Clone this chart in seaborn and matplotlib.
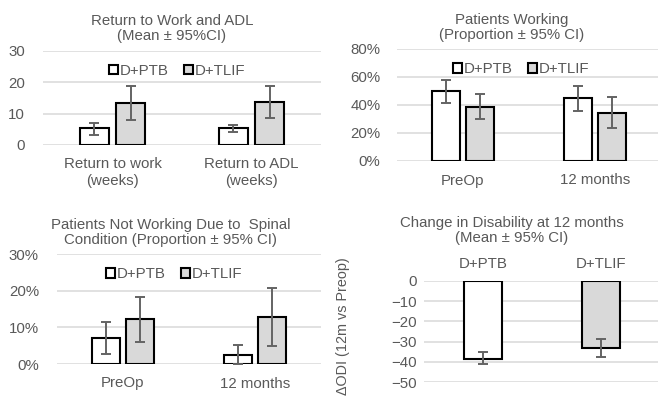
import numpy as np
import pandas as pd
import matplotlib
matplotlib.use("Agg")
import matplotlib.pyplot as plt
from matplotlib.patches import Patch
from matplotlib.ticker import FuncFormatter
import seaborn as sns

# ---- data -------------------------------------------------------------
groups = ["D+PTB", "D+TLIF"]

rtw_cats = ["Return to work\n(weeks)", "Return to ADL\n(weeks)"]
rtw_ptb = [5.3, 5.3]
rtw_ptb_lo = [3.2, 4.2]
rtw_ptb_hi = [7.1, 6.4]
rtw_tlif = [13.5, 13.6]
rtw_tlif_lo = [8.0, 8.5]
rtw_tlif_hi = [18.9, 18.9]

time_cats = ["PreOp", "12 months"]
work_ptb = [50.2, 44.8]
work_ptb_lo = [41.2, 35.9]
work_ptb_hi = [57.9, 53.4]
work_tlif = [38.8, 34.5]
work_tlif_lo = [29.7, 23.5]
work_tlif_hi = [47.7, 45.5]

notwork_ptb = [7.1, 2.4]
notwork_ptb_lo = [2.7, 0.0]
notwork_ptb_hi = [11.4, 5.1]
notwork_tlif = [12.3, 12.8]
notwork_tlif_lo = [5.9, 5.0]
notwork_tlif_hi = [18.3, 20.7]

odi_change = [-38.4, -33.1]
odi_lo = [-41.3, -37.4]
odi_hi = [-35.2, -28.7]

# ---- style ------------------------------------------------------------
sns.set_theme(style="white")
plt.rcParams["font.family"] = ["Liberation Sans", "DejaVu Sans"]
TEXT = "#595959"
GRID = "#D9D9D9"
FILLS = ["white", "#D9D9D9"]
ERR = "#636363"
FS = 10.8

W, H = 658, 398
fig = plt.figure(figsize=(W / 100, H / 100), dpi=100)


def px_axes(x0, x1, ytop, ybot):
    return fig.add_axes([x0 / W, (H - ybot) / H, (x1 - x0) / W, (ybot - ytop) / H])


def frac_x(ax, px):
    """Horizontal pixel position expressed in the axes' own coordinates."""
    b = ax.get_position()
    return (px / W - b.x0) / b.width


def style_axes(ax, ylim, ticks, ncat, pct=False, pad=9):
    ax.set_xlim(-0.5, ncat - 0.5)
    ax.set_ylim(*ylim)
    ax.set_yticks(ticks)
    if pct:
        ax.yaxis.set_major_formatter(FuncFormatter(lambda v, p: f"{v:.0f}%"))
    for s in ax.spines.values():
        s.set_visible(False)
    ax.grid(axis="y", color=GRID, linewidth=1.1)
    ax.set_axisbelow(True)
    ax.tick_params(axis="y", length=0, pad=pad, labelsize=FS, labelcolor=TEXT)
    ax.tick_params(axis="x", length=0, pad=9, labelsize=FS, labelcolor=TEXT)
    ax.set_xlabel("")
    ax.set_ylabel("")


def grouped(ax, cats, ptb, tlif, lo, hi, legend_px):
    df = pd.DataFrame({
        "cat": cats + cats,
        "grp": [groups[0]] * len(cats) + [groups[1]] * len(cats),
        "val": list(ptb) + list(tlif),
    })
    sns.barplot(data=df, x="cat", y="val", hue="grp", hue_order=groups,
                palette=FILLS, edgecolor="black", linewidth=1.5,
                width=0.52, gap=0.2, errorbar=None, legend=False, ax=ax)
    for cont, lows, highs in zip(ax.containers, lo, hi):
        xs = [b.get_x() + b.get_width() / 2 for b in cont]
        vals = [b.get_height() for b in cont]
        yerr = [np.array(vals) - np.array(lows), np.array(highs) - np.array(vals)]
        ax.errorbar(xs, vals, yerr=yerr, fmt="none", ecolor=ERR,
                    elinewidth=1.4, capsize=3.6, capthick=1.4, zorder=5)
    handles = [Patch(facecolor=c, edgecolor="black", linewidth=1.5) for c in FILLS]
    ax.legend(handles, groups, loc="upper center",
              bbox_to_anchor=(frac_x(ax, legend_px), 0.96),
              ncol=2, frameon=False, fontsize=FS, labelcolor=TEXT,
              handlelength=0.6, handleheight=0.6, handletextpad=0.15,
              columnspacing=1.0, borderaxespad=0.2)


def title(ax, text, center_px, pad=8):
    ax.set_title(text, fontsize=FS, color=TEXT, pad=pad, linespacing=1.1,
                 x=frac_x(ax, center_px))


# Top-left: return to work / ADL
ax1 = px_axes(43, 321, 51, 145)
grouped(ax1, rtw_cats, rtw_ptb, rtw_tlif,
        [rtw_ptb_lo, rtw_tlif_lo], [rtw_ptb_hi, rtw_tlif_hi], 177)
style_axes(ax1, (0, 30), [0, 10, 20, 30], 2, pad=13)
title(ax1, "Return to Work and ADL\n(Mean ± 95%CI)", 172)

# Top-right: patients working
ax2 = px_axes(397, 661, 49, 161)
grouped(ax2, time_cats, work_ptb, work_tlif,
        [work_ptb_lo, work_tlif_lo], [work_ptb_hi, work_tlif_hi], 521)
style_axes(ax2, (0, 80), [0, 20, 40, 60, 80], 2, pct=True, pad=12)
title(ax2, "Patients Working\n(Proportion ± 95% CI)", 512, pad=7)

# Bottom-left: not working due to spinal condition
ax3 = px_axes(57, 321, 254, 364)
grouped(ax3, time_cats, notwork_ptb, notwork_tlif,
        [notwork_ptb_lo, notwork_tlif_lo], [notwork_ptb_hi, notwork_tlif_hi], 174)
style_axes(ax3, (0, 30), [0, 10, 20, 30], 2, pct=True, pad=13)
title(ax3, "Patients Not Working Due to  Spinal\nCondition (Proportion ± 95% CI)", 171, pad=7)

# Bottom-right: change in disability
ax4 = px_axes(424, 660, 281, 382)
odi_df = pd.DataFrame({"grp": groups, "val": odi_change})
sns.barplot(data=odi_df, x="grp", y="val", hue="grp", hue_order=groups,
            palette=FILLS, edgecolor="black", linewidth=1.5, width=0.32,
            errorbar=None, legend=False, ax=ax4)
for bar, v, lo, hi in zip(ax4.patches, odi_change, odi_lo, odi_hi):
    xc = bar.get_x() + bar.get_width() / 2
    ax4.errorbar([xc], [v], yerr=[[v - lo], [hi - v]], fmt="none", ecolor=ERR,
                 elinewidth=1.4, capsize=3.6, capthick=1.4, zorder=5)
style_axes(ax4, (-50, 0), [0, -10, -20, -30, -40, -50], 2, pad=5)
ax4.xaxis.tick_top()
ax4.tick_params(axis="x", length=0, pad=7, labelsize=FS, labelcolor=TEXT)
ax4.set_ylabel("ΔODI (12m vs Preop)", fontsize=FS - 0.4, color=TEXT)
ax4.yaxis.set_label_coords(-0.315, 0.55)
ax4.set_title("Change in Disability at 12 months\n(Mean ± 95% CI)",
              fontsize=FS, color=TEXT, pad=28, linespacing=1.1,
              x=frac_x(ax4, 512))

fig.savefig("out.png", dpi=100)
